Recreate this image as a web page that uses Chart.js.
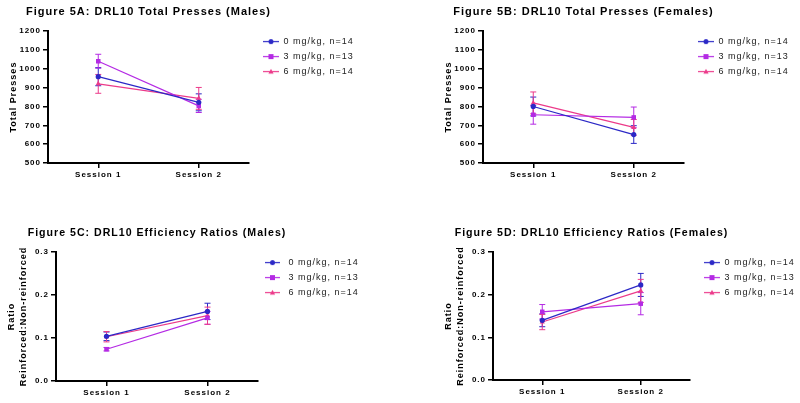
<!DOCTYPE html>
<html><head><meta charset="utf-8">
<script src="https://cdn.jsdelivr.net/npm/chart.js@4.4.0/dist/chart.umd.min.js"></script>
<style>
html,body{margin:0;padding:0;background:#fff;width:800px;height:403px;overflow:hidden;}
canvas{position:absolute;}
</style></head><body>
<canvas id="cA" width="400" height="200" style="left:0px;top:0px;width:400px;height:200px"></canvas>
<canvas id="cB" width="400" height="200" style="left:400px;top:0px;width:400px;height:200px"></canvas>
<canvas id="cC" width="400" height="203" style="left:0px;top:200px;width:400px;height:203px"></canvas>
<canvas id="cD" width="400" height="203" style="left:400px;top:200px;width:400px;height:203px"></canvas>
<script>
// ---------- data ----------
const sessions = ['Session 1', 'Session 2'];
const groupLabels = ['0 mg/kg, n=14', '3 mg/kg, n=13', '6 mg/kg, n=14'];

const titleA = 'Figure 5A: DRL10 Total Presses (Males)';
const titleB = 'Figure 5B: DRL10 Total Presses (Females)';
const titleC = 'Figure 5C: DRL10 Efficiency Ratios (Males)';
const titleD = 'Figure 5D: DRL10 Efficiency Ratios (Females)';
const yTitlePresses = 'Total Presses';
const yTitleRatio = ['Ratio', 'Reinforced:Non-reinforced'];

// Figure 5A – total presses, males (mean, SEM)
const malesPress0 = [958, 822];   const malesPress0Sem = [48, 45];
const malesPress3 = [1040, 803];  const malesPress3Sem = [37, 35];
const malesPress6 = [920, 843];   const malesPress6Sem = [50, 58];
// Figure 5B – total presses, females
const femPress0 = [800, 651];     const femPress0Sem = [50, 47];
const femPress3 = [756, 742];     const femPress3Sem = [50, 55];
const femPress6 = [819, 689];     const femPress6Sem = [58, 42];
// Figure 5C – efficiency ratio, males
const malesRatio0 = [0.104, 0.162]; const malesRatio0Sem = [0.010, 0.019];
const malesRatio3 = [0.074, 0.147]; const malesRatio3Sem = [0.004, 0.015];
const malesRatio6 = [0.103, 0.152]; const malesRatio6Sem = [0.012, 0.020];
// Figure 5D – efficiency ratio, females
const femRatio0 = [0.140, 0.223]; const femRatio0Sem = [0.015, 0.027];
const femRatio3 = [0.160, 0.179]; const femRatio3Sem = [0.017, 0.026];
const femRatio6 = [0.136, 0.209]; const femRatio6Sem = [0.018, 0.027];

const pressTicks = {min: 500, max: 1200, step: 100};
const ratioTicks = {min: 0, max: 0.3, step: 0.1};

// ---------- styles ----------
const colors = ['#2b28c6', '#b42ae4', '#ec3a8a'];
const markers = ['circle', 'rect', 'triangle'];
const markerRadius = [2.6, 3.2, 3.0];
const FONT = "'Liberation Sans', Arial, sans-serif";
Chart.defaults.font.family = FONT;

function legendIcon(color, style, w, x0, x1) {
  const cv = document.createElement('canvas');
  cv.width = w; cv.height = 9;
  const g = cv.getContext('2d');
  g.strokeStyle = color; g.fillStyle = color; g.lineWidth = 1.2;
  g.beginPath(); g.moveTo(x0, 4.5); g.lineTo(x1, 4.5); g.stroke();
  const cx = (x0 + x1) / 2, cy = 4.5;
  g.beginPath();
  if (style === 'circle') { g.arc(cx, cy, 2.5, 0, Math.PI * 2); g.fill(); }
  else if (style === 'rect') { g.fillRect(cx - 2.5, cy - 2.5, 5, 5); }
  else { g.moveTo(cx, cy - 2.8); g.lineTo(cx + 2.6, cy + 2); g.lineTo(cx - 2.6, cy + 2); g.closePath(); g.fill(); }
  return cv;
}

const spacingPlugin = {
  id: 'spacing',
  beforeUpdate(c) { c.ctx.letterSpacing = '1px'; },
  beforeLayout(c) { c.ctx.letterSpacing = '1px'; },
  beforeDraw(c) { c.ctx.letterSpacing = '1px'; }
};

// title is centred over the plot area but may be wider than it
const wideTitlePlugin = {
  id: 'wideTitle',
  afterLayout(c) {
    const t = c.titleBlock;
    if (t) { t.left -= 80; t.right += 80; t.width += 160; }
  }
};

function legendWidthPlugin(w) {
  return {
    id: 'legendWidth',
    beforeLayout(c) {
      const lg = c.legend;
      if (lg && !lg._fixedW) {
        const f = lg.fit;
        lg.fit = function () { f.call(this); this.width = w; };
        lg._fixedW = true;
      }
    }
  };
}

const errorBarPlugin = {
  id: 'errorBars',
  beforeDatasetsDraw(chart) {
    const ctx = chart.ctx, ys = chart.scales.y;
    chart.data.datasets.forEach((ds, i) => {
      const meta = chart.getDatasetMeta(i);
      ctx.save();
      ctx.strokeStyle = ds.borderColor; ctx.lineWidth = 1;
      meta.data.forEach((pt, j) => {
        const m = ds.data[j], s = ds.sem[j];
        const yt = ys.getPixelForValue(m + s), yb = ys.getPixelForValue(m - s);
        const x = pt.x;
        ctx.beginPath();
        ctx.moveTo(x, yt); ctx.lineTo(x, yb);
        ctx.moveTo(x - 3, yt); ctx.lineTo(x + 3, yt);
        ctx.moveTo(x - 3, yb); ctx.lineTo(x + 3, yb);
        ctx.stroke();
      });
      ctx.restore();
    });
  }
};

function makeChart(id, cfg) {
  const datasets = cfg.means.map((m, i) => ({
    label: groupLabels[i],
    data: m,
    sem: cfg.sems[i],
    borderColor: colors[i],
    backgroundColor: colors[i],
    borderWidth: 1.2,
    pointStyle: markers[i],
    pointRadius: markerRadius[i],
    pointBorderWidth: 0,
    tension: 0,
    clip: false
  }));
  const icons = colors.map((c, i) => legendIcon(c, markers[i], cfg.iconW, cfg.lineX0, cfg.lineX1));
  return new Chart(document.getElementById(id), {
    type: 'line',
    data: {labels: sessions, datasets},
    plugins: [spacingPlugin, wideTitlePlugin, legendWidthPlugin(cfg.legendW), errorBarPlugin],
    options: {
      responsive: false, animation: false, devicePixelRatio: 1,
      layout: {padding: cfg.pad},
      plugins: {
        tooltip: {enabled: false},
        title: {
          display: true, text: cfg.title, fullSize: false, align: 'center',
          color: '#000', font: {size: cfg.titleSize, weight: 'bold', family: FONT, lineHeight: 12.1 / cfg.titleSize},
          padding: cfg.titlePad
        },
        legend: {
          display: true, position: 'right', align: 'start', fullSize: false,
          labels: {
            usePointStyle: true, pointStyleWidth: cfg.iconW, padding: 6,
            color: '#222', font: {size: 9, family: FONT},
            generateLabels: (chart) => chart.data.datasets.map((d, i) => ({
              text: d.label, fillStyle: d.borderColor, strokeStyle: d.borderColor,
              fontColor: '#222', lineWidth: 0, pointStyle: icons[i], hidden: false, datasetIndex: i
            }))
          }
        }
      },
      scales: {
        x: {
          type: 'category', offset: true,
          grid: {display: true, offset: false, drawOnChartArea: false, drawTicks: true, tickLength: 5, color: '#000', lineWidth: 1.5},
          border: {display: true, color: '#000', width: 2},
          ticks: {color: '#000', font: {size: 8, weight: 'bold', family: FONT}, padding: 2, maxRotation: 0},
          afterFit: (s) => { s.height = cfg.xH; }
        },
        y: {
          min: cfg.yt.min, max: cfg.yt.max,
          grid: {display: true, drawOnChartArea: false, drawTicks: true, tickLength: 5, color: '#000', lineWidth: 1.5},
          border: {display: true, color: '#000', width: 2},
          ticks: {stepSize: cfg.yt.step, color: '#000', font: {size: 8, weight: 'bold', family: FONT}, padding: 2,
                  callback: (v) => cfg.yt.step < 1 ? Number(v).toFixed(1) : v},
          title: {display: true, text: cfg.yTitle, color: '#000', font: {size: 9, weight: 'bold', family: FONT, lineHeight: 1.35}, padding: {top: 0, bottom: 0}},
          afterFit: (s) => { s.width = cfg.yW; }
        }
      }
    }
  });
}

makeChart('cA', {
  title: titleA, titleSize: 11, yTitle: yTitlePresses, yt: pressTicks,
  means: [malesPress0, malesPress3, malesPress6], sems: [malesPress0Sem, malesPress3Sem, malesPress6Sem],
  pad: {left: 7, right: 0, top: 0, bottom: 0}, yW: 41, xH: 37, titlePad: {top: 6, bottom: 13},
  legendW: 151, iconW: 24, lineX0: 8, lineX1: 24
});
makeChart('cB', {
  title: titleB, titleSize: 11, yTitle: yTitlePresses, yt: pressTicks,
  means: [femPress0, femPress3, femPress6], sems: [femPress0Sem, femPress3Sem, femPress6Sem],
  pad: {left: 42, right: 0, top: 0, bottom: 0}, yW: 41, xH: 37, titlePad: {top: 6, bottom: 13},
  legendW: 116, iconW: 24, lineX0: 8, lineX1: 24
});
makeChart('cC', {
  title: titleC, titleSize: 10.6, yTitle: yTitleRatio, yt: ratioTicks,
  means: [malesRatio0, malesRatio3, malesRatio6], sems: [malesRatio0Sem, malesRatio3Sem, malesRatio6Sem],
  pad: {left: 5, right: 0, top: 0, bottom: 0}, yW: 51, xH: 22, titlePad: {top: 27, bottom: 13},
  legendW: 142, iconW: 20, lineX0: 1, lineX1: 16
});
makeChart('cD', {
  title: titleD, titleSize: 10.6, yTitle: yTitleRatio, yt: ratioTicks,
  means: [femRatio0, femRatio3, femRatio6], sems: [femRatio0Sem, femRatio3Sem, femRatio6Sem],
  pad: {left: 42, right: 0, top: 0, bottom: 0}, yW: 51, xH: 23, titlePad: {top: 27, bottom: 13},
  legendW: 110, iconW: 24, lineX0: 8, lineX1: 24
});
</script>
</body></html>
